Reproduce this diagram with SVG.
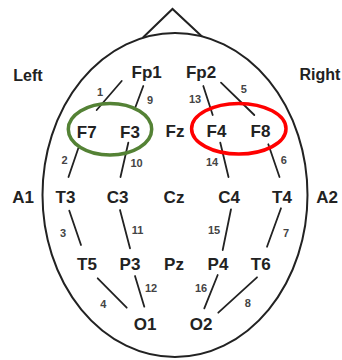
<svg xmlns="http://www.w3.org/2000/svg" width="342" height="360" viewBox="0 0 342 360">
<style>
.head{fill:none;stroke:#222;stroke-width:2}
.lbl{font-family:"Liberation Sans",Arial,sans-serif;font-size:17px;font-weight:bold;fill:#222;text-anchor:middle}
.side{font-family:"Liberation Sans",Arial,sans-serif;font-size:16px;font-weight:bold;fill:#222;text-anchor:middle}
.num{font-family:"Liberation Sans",Arial,sans-serif;font-size:11px;font-weight:bold;fill:#444;text-anchor:middle}
.con line{stroke:#222;stroke-width:1.8;stroke-linecap:round}
</style>
<rect width="342" height="360" fill="#fff"/>
<g id="head">
<ellipse class="head" cx="175" cy="195" rx="132.5" ry="162"/>
<polyline class="head" points="143,37.5 172.5,9 202,36.5"/>
</g>
<g id="side-labels">
<text class="side" x="28" y="81">Left</text>
<text class="side" x="320" y="80">Right</text>
</g>
<g id="connectors" class="con">
<line x1="121.7" y1="81" x2="96.7" y2="110"/>
<line x1="78.3" y1="148.3" x2="68.5" y2="177"/>
<line x1="69.3" y1="210.7" x2="81" y2="245"/>
<line x1="97.7" y1="278.3" x2="126.7" y2="307.7"/>
<line x1="221" y1="82.7" x2="254.3" y2="115"/>
<line x1="268.3" y1="144.3" x2="279.5" y2="177"/>
<line x1="281" y1="208.3" x2="267" y2="246.7"/>
<line x1="257" y1="277.3" x2="218.3" y2="312.7"/>
<line x1="143.3" y1="86" x2="135" y2="108.3"/>
<line x1="128.3" y1="142.7" x2="120.5" y2="177"/>
<line x1="120" y1="210" x2="130" y2="248.3"/>
<line x1="135" y1="276" x2="144.3" y2="306.7"/>
<line x1="203.3" y1="86" x2="212.7" y2="115"/>
<line x1="220.3" y1="142.7" x2="228.5" y2="177"/>
<line x1="231" y1="209.3" x2="222.7" y2="250"/>
<line x1="217.7" y1="275" x2="204.3" y2="308.3"/>
<text class="num" x="100" y="96">1</text>
<text class="num" x="64.5" y="164">2</text>
<text class="num" x="63" y="237">3</text>
<text class="num" x="103.3" y="308">4</text>
<text class="num" x="243.7" y="93">5</text>
<text class="num" x="283.7" y="164">6</text>
<text class="num" x="286" y="237">7</text>
<text class="num" x="247.7" y="307">8</text>
<text class="num" x="150" y="104">9</text>
<text class="num" x="136.5" y="167">10</text>
<text class="num" x="137.5" y="234">11</text>
<text class="num" x="151" y="292">12</text>
<text class="num" x="195" y="103">13</text>
<text class="num" x="212" y="166">14</text>
<text class="num" x="214" y="234">15</text>
<text class="num" x="201" y="292">16</text>
</g>
<g id="Fp1"><text class="lbl" x="146.7" y="78">Fp1</text></g>
<g id="Fp2"><text class="lbl" x="201" y="78">Fp2</text></g>
<g id="F7"><text class="lbl" x="86.7" y="138">F7</text></g>
<g id="F3"><text class="lbl" x="130" y="138">F3</text></g>
<g id="Fz"><text class="lbl" x="175" y="137">Fz</text></g>
<g id="F4"><text class="lbl" x="216.5" y="137">F4</text></g>
<g id="F8"><text class="lbl" x="260.5" y="137">F8</text></g>
<g id="A1"><text class="lbl" x="23" y="203">A1</text></g>
<g id="T3"><text class="lbl" x="65.5" y="203">T3</text></g>
<g id="C3"><text class="lbl" x="117.5" y="203">C3</text></g>
<g id="Cz"><text class="lbl" x="174" y="203">Cz</text></g>
<g id="C4"><text class="lbl" x="229" y="203">C4</text></g>
<g id="T4"><text class="lbl" x="282" y="203">T4</text></g>
<g id="A2"><text class="lbl" x="327" y="203">A2</text></g>
<g id="T5"><text class="lbl" x="87" y="270">T5</text></g>
<g id="P3"><text class="lbl" x="130" y="270">P3</text></g>
<g id="Pz"><text class="lbl" x="174" y="270">Pz</text></g>
<g id="P4"><text class="lbl" x="218" y="270">P4</text></g>
<g id="T6"><text class="lbl" x="260.7" y="270">T6</text></g>
<g id="O1"><text class="lbl" x="145" y="330">O1</text></g>
<g id="O2"><text class="lbl" x="201" y="330">O2</text></g>
<g id="left-highlight"><ellipse cx="110" cy="129.2" rx="41.7" ry="25.8" fill="none" stroke="#548235" stroke-width="3.5"/></g>
<g id="right-highlight"><ellipse cx="238.8" cy="128.7" rx="47.2" ry="25.3" fill="none" stroke="#ff0000" stroke-width="3.5"/></g>
</svg>
